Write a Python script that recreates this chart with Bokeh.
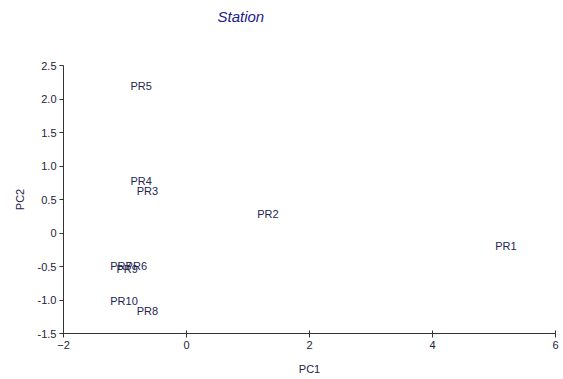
from bokeh.plotting import figure
from bokeh.models import ColumnDataSource, Range1d, FixedTicker, Title
from bokeh.embed import file_html
from bokeh.resources import INLINE

stations = ["PR1", "PR2", "PR3", "PR4", "PR5", "PR6", "PR7", "PR8", "PR9", "PR10"]
pc1 = [5.02, 1.15, -0.81, -0.91, -0.91, -0.99, -1.24, -0.81, -1.14, -1.24]
pc2 = [-0.19, 0.29, 0.63, 0.77, 2.20, -0.49, -0.49, -1.17, -0.53, -1.02]

x_ticks = [-2, 0, 2, 4, 6]
y_ticks = [-1.5, -1.0, -0.5, 0, 0.5, 1.0, 1.5, 2.0, 2.5]
y_tick_labels = ["-1.5", "-1.0", "-0.5", "0", "0.5", "1.0", "1.5", "2.0", "2.5"]
title_text = "Station"

FONT = "Liberation Sans"

p = figure(width=563, height=379, output_backend="svg", toolbar_location=None,
           x_range=Range1d(-2, 6), y_range=Range1d(-1.5, 2.5),
           min_border_left=63, min_border_right=8, min_border_bottom=46, min_border_top=65)
p.title = None
# spacer panel between the title and the frame
p.add_layout(Title(text=" ", text_font_size="13px", standoff=24), "above")
p.add_layout(Title(text=title_text, text_font=FONT, text_font_style="italic",
                   text_font_size="15px", text_color="#1c1c8a", align="left",
                   offset=154, standoff=0), "above")
p.grid.visible = False
p.outline_line_color = None
p.background_fill_color = "white"
p.border_fill_color = "white"

src = ColumnDataSource(dict(x=pc1, y=pc2, t=stations))
p.text(x="x", y="y", text="t", source=src, text_font_size="11px",
       text_color="#24244e", text_align="left", text_baseline="middle",
       text_font={"value": FONT})

for ax in (p.xaxis[0], p.yaxis[0]):
    ax.axis_line_color = "#333333"
    ax.major_tick_line_color = "#333333"
    ax.minor_tick_line_color = None
    ax.major_label_text_font = FONT
    ax.major_label_text_font_size = "11px"
    ax.major_label_text_color = "#222233"
    ax.axis_label_text_font = FONT
    ax.axis_label_text_font_size = "11px"
    ax.axis_label_text_font_style = "normal"
    ax.axis_label_text_color = "#222244"

p.xaxis.ticker = FixedTicker(ticks=x_ticks)
p.yaxis.ticker = FixedTicker(ticks=y_ticks)
p.yaxis.major_label_overrides = {t: l for t, l in zip(y_ticks, y_tick_labels)}
p.xaxis.major_tick_out = 4
p.xaxis.major_tick_in = 3
p.yaxis.major_tick_out = 4
p.yaxis.major_tick_in = 0
p.xaxis.major_label_standoff = 3
p.yaxis.major_label_standoff = 3
p.xaxis.axis_label = "PC1"
p.yaxis.axis_label = "PC2"
p.xaxis.axis_label_standoff = 11
p.yaxis.axis_label_standoff = 9

open("out.html", "w").write(file_html(p, INLINE))
